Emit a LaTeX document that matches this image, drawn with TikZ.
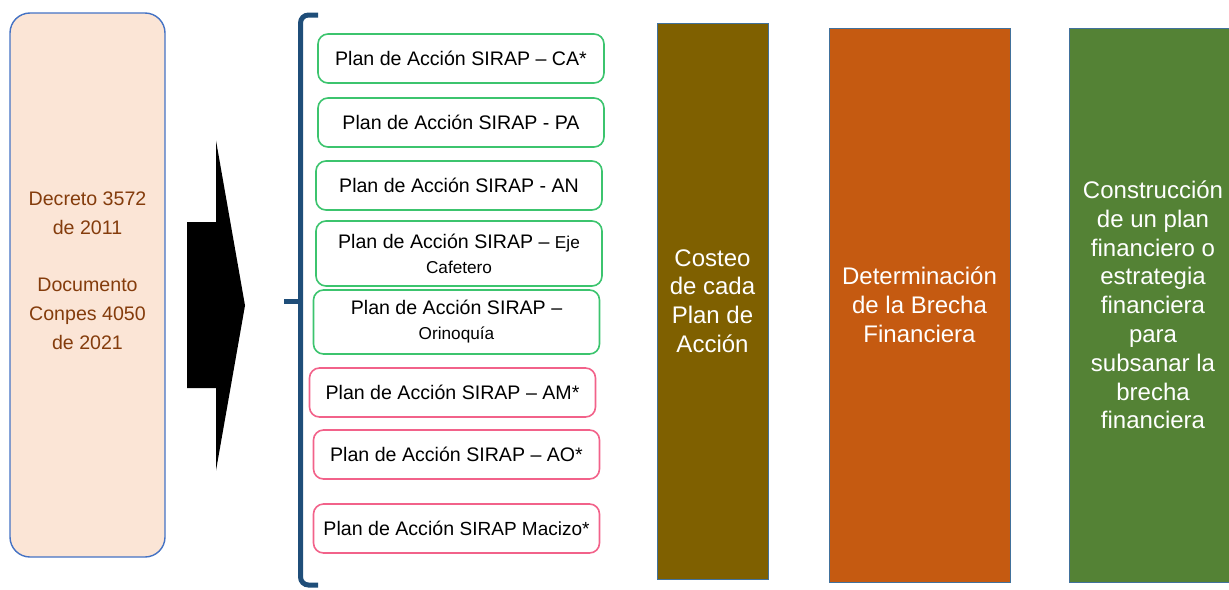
\documentclass[tikz,border=0pt]{standalone}
\usepackage{fontspec}
\setmainfont{Liberation Sans}
\definecolor{NormFillClr}{HTML}{FBE5D6}
\definecolor{NormTextClr}{HTML}{843C0C}
\definecolor{EdgeClr}{HTML}{4472C4}
\definecolor{StageEdgeClr}{HTML}{41719C}
\definecolor{BraceClr}{HTML}{1F4E79}
\definecolor{GreenClr}{HTML}{3CC46E}
\definecolor{PinkClr}{HTML}{F2628A}
\definecolor{CostClr}{HTML}{7F6000}
\definecolor{GapClr}{HTML}{C55A11}
\definecolor{FinClr}{HTML}{548235}
\newcommand{\SubTxt}[1]{{\fontsize{8.6}{12.5}\selectfont #1}}

\begin{document}
\begin{tikzpicture}[x=0.5pt,y=-0.5pt,
  plan/.style={draw,rounded corners=5pt,line width=0.8pt,align=center,inner sep=0pt,
    minimum width=143pt,minimum height=24.5pt,font=\fontsize{9.8}{12.5}\selectfont},
  greenplan/.style={plan,draw=GreenClr},
  pinkplan/.style={plan,draw=PinkClr},
  stage/.style={draw=StageEdgeClr,line width=0.5pt,text=white,align=center,inner sep=0pt,
    minimum height=277pt,font=\fontsize{12}{14.4}\selectfont}]
\useasboundingbox (0,0) rectangle (1229,589);

% legal basis
\node[draw=EdgeClr,fill=NormFillClr,line width=0.7pt,rounded corners=10pt,
  minimum width=77.5pt,minimum height=272pt,text=NormTextClr,align=center,
  font=\fontsize{9.8}{14.4}\selectfont] (Norm) at (87.5,285)
  {Decreto 3572\\de 2011\\[14.4pt]Documento\\Conpes 4050\\de 2021\\\mbox{}};

% arrow
\fill[black] (187,222) -- (216,222) -- (216,140.5) -- (245,305.5)
  -- (216,470.5) -- (216,388) -- (187,388) -- cycle;

% brace
\draw[BraceClr,line width=2.5pt,rounded corners=4pt] (318,15) -- (300.5,15) -- (300.5,585) -- (318,585);
\draw[BraceClr,line width=2.5pt] (300.5,301.5) -- (284,301.5);

% action plans
\node[greenplan] (CA) at (461,58.5) {Plan de Acción SIRAP – CA*};
\node[greenplan] (PA) at (461,122.5) {Plan de Acción SIRAP - PA};
\node[greenplan] (AN) at (459,185.5) {Plan de Acción SIRAP - AN};
\node[greenplan,minimum height=32.5pt] (EC) at (459,253.5)
  {Plan de Acción SIRAP – \SubTxt{Eje}\\\SubTxt{Cafetero}};
\node[greenplan,minimum height=32pt] (OR) at (456.5,322)
  {Plan de Acción SIRAP –\\\SubTxt{Orinoquía}};
\node[pinkplan] (AM) at (452.5,392.5) {Plan de Acción SIRAP – AM*};
\node[pinkplan] (AO) at (456.5,454.5) {Plan de Acción SIRAP – AO*};
\node[pinkplan] (MA) at (456.5,528.5)
  {Plan de Acción {\fontsize{9.5}{12.5}\selectfont SIRAP Macizo*}};

% stages
\node[stage,fill=CostClr,minimum width=55.5pt,minimum height=278pt] (Cost) at (712.5,301)
  {Costeo\\de cada\\Plan de\\Acción};
\node[stage,fill=GapClr,minimum width=90.5pt] (Gap) at (919.5,305)
  {Determinación\\de la Brecha\\Financiera};
\node[stage,fill=FinClr,minimum width=84pt] (Fin) at (1153,305)
  {Construcción\\de un plan\\financiero o\\estrategia\\financiera\\para\\subsanar la\\brecha\\financiera};

\end{tikzpicture}
\end{document}
